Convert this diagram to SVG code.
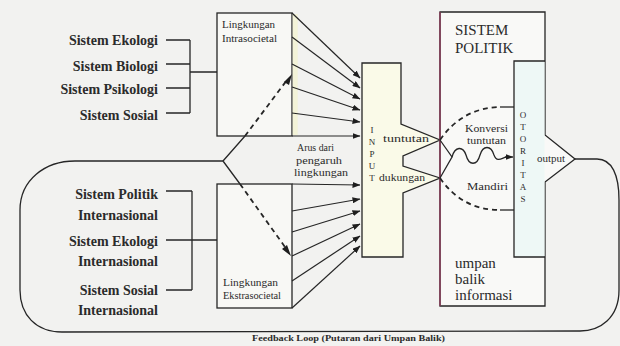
<svg xmlns="http://www.w3.org/2000/svg" width="620" height="346" viewBox="0 0 620 346" font-family="'Liberation Serif', 'DejaVu Serif', serif">
<defs>
<style>
.ln{stroke:#262626;stroke-width:1.3;fill:none}
.dl{stroke:#262626;stroke-width:1.8;fill:none;stroke-dasharray:5 4}
.ar{stroke:#262626;stroke-width:1.2;fill:none;marker-end:url(#ah)}
text{fill:#2b2b2b}
.lb{font-size:14px;font-weight:bold}
.sm{font-size:10px}
.big{font-size:15px}
</style>
<marker id="ah" markerWidth="8" markerHeight="6" refX="7.5" refY="3" orient="auto" markerUnits="userSpaceOnUse">
<path d="M0,0 L8,3 L0,6 z" fill="#1e1e1e"/>
</marker>
</defs>
<rect x="0" y="0" width="620" height="346" fill="#f2f2f0"/>

<g id="feedback-loop">
<path class="ln" d="M575,159 L597,159 C612,159 619,175 619,200 L619,290 C619,318 600,331 580,331 L62,332 C36,332 20,315 20,290 L20,210 C20,180 45,161 75,161 L223,161"/>
<text x="252" y="341" font-size="9" font-weight="bold" textLength="193" lengthAdjust="spacingAndGlyphs">Feedback Loop (Putaran dari Umpan Balik)</text>
</g>

<g id="intrasocietal-sources">
<text class="lb" x="158" y="45" text-anchor="end">Sistem Ekologi</text>
<text class="lb" x="158" y="71" text-anchor="end">Sistem Biologi</text>
<text class="lb" x="158" y="94" text-anchor="end">Sistem Psikologi</text>
<text class="lb" x="158" y="120" text-anchor="end">Sistem Sosial</text>
<path class="ln" d="M166,40 H190 M166,64 H190 M166,88 H190 M166,113 H190 M190,40 V113 M190,72 H217"/>
</g>

<g id="extrasocietal-sources">
<text class="lb" x="158" y="199" text-anchor="end">Sistem Politik</text>
<text class="lb" x="158" y="220" text-anchor="end">Internasional</text>
<text class="lb" x="158" y="246" text-anchor="end">Sistem Ekologi</text>
<text class="lb" x="158" y="266" text-anchor="end">Internasional</text>
<text class="lb" x="158" y="295" text-anchor="end">Sistem Sosial</text>
<text class="lb" x="158" y="315" text-anchor="end">Internasional</text>
<path class="ln" d="M166,191 H192 M166,290 H192 M192,191 V290 M166,240 H217"/>
</g>

<g id="intrasocietal-env">
<rect x="217" y="13" width="75" height="123" fill="#f8f8f5" stroke="#262626" stroke-width="1.3"/>
<rect x="292.7" y="14" width="5" height="121" fill="#f3f3d8"/>
<text class="sm" x="222" y="28" textLength="53" lengthAdjust="spacingAndGlyphs">Lingkungan</text>
<text class="sm" x="222" y="42" textLength="55" lengthAdjust="spacingAndGlyphs">Intrasocietal</text>
</g>

<g id="extrasocietal-env">
<rect x="217" y="184" width="75" height="124" fill="#f8f8f5" stroke="#262626" stroke-width="1.3"/>
<text class="sm" x="223" y="286" textLength="55" lengthAdjust="spacingAndGlyphs">Lingkungan</text>
<text class="sm" x="223" y="299" textLength="58" lengthAdjust="spacingAndGlyphs">Ekstrasocietal</text>
</g>

<g id="flow-label">
<text class="sm" x="297" y="151" textLength="37" lengthAdjust="spacingAndGlyphs">Arus dari</text>
<text class="sm" x="296" y="164" textLength="46" lengthAdjust="spacingAndGlyphs">pengaruh</text>
<text class="sm" x="294" y="176" textLength="54" lengthAdjust="spacingAndGlyphs">lingkungan</text>
</g>

<g id="input">
<path d="M362,63 H401 V124 L440,140 L403,156 V166 L440,178 L403,193 V257 H362 Z" fill="#fafae8" stroke="#262626" stroke-width="1.3"/>
<g font-size="9" text-anchor="middle">
<text x="372" y="133">I</text>
<text x="372" y="145">N</text>
<text x="372" y="157">P</text>
<text x="372" y="169">U</text>
<text x="372" y="181">T</text>
</g>
<text class="sm" x="383" y="142" textLength="46" lengthAdjust="spacingAndGlyphs">tuntutan</text>
<text class="sm" x="379" y="181" textLength="46" lengthAdjust="spacingAndGlyphs">dukungan</text>
</g>

<g id="sistem-politik">
<path d="M440,12 H545 V135 L575,159 L545,182 V306 H440 Z" fill="#f9f9f7" stroke="#262626" stroke-width="1.3"/>
<rect x="514.6" y="61.6" width="30" height="195" fill="#eef8f6"/>
<path class="ln" d="M545,61 H514 V257 H545"/>
<line x1="440" y1="12" x2="440" y2="306" stroke="#8a3a58" stroke-width="1.4"/>
<text class="big" x="455" y="35">SISTEM</text>
<text class="big" x="455" y="53">POLITIK</text>
<text class="big" x="455" y="268">umpan</text>
<text class="big" x="455" y="284">balik</text>
<text class="big" x="455" y="300">informasi</text>
<text class="sm" x="465" y="132" textLength="43" lengthAdjust="spacingAndGlyphs">Konversi</text>
<text class="sm" x="467" y="144" textLength="39" lengthAdjust="spacingAndGlyphs">tuntutan</text>
<text class="sm" x="467" y="190" textLength="41" lengthAdjust="spacingAndGlyphs">Mandiri</text>
<text class="sm" x="537" y="162" textLength="28" lengthAdjust="spacingAndGlyphs">output</text>
</g>

<g id="otoritas">
<g font-size="9" text-anchor="middle">
<text x="523" y="118">O</text>
<text x="523" y="130">T</text>
<text x="523" y="142">O</text>
<text x="523" y="154">R</text>
<text x="523" y="166">I</text>
<text x="523" y="178">T</text>
<text x="523" y="190">A</text>
<text x="523" y="202">S</text>
</g>
</g>

<g id="connectors">
<path class="ar" d="M292,13 L360,78"/>
<path class="ar" d="M292,37 L360,88"/>
<path class="ar" d="M292,64 L360,99"/>
<path class="ar" d="M292,87 L360,110"/>
<path class="ar" d="M292,113 L360,122"/>
<path class="ar" d="M292,136 L360,136"/>
<path class="ar" d="M292,184 L360,185"/>
<path class="ar" d="M292,211 L360,199"/>
<path class="ar" d="M292,232 L360,211"/>
<path class="ar" d="M292,256 L360,224"/>
<path class="ar" d="M292,281 L360,236"/>
<path class="ar" d="M292,308 L360,246"/>
<path class="ln" d="M223,161 L245,136 M223,161 L240,184"/>
<path class="dl" d="M245,136 L287,80"/>
<path class="dl" d="M240,184 L285,247"/>
<path d="M284,82 L292,74 L289,85 Z M282,249 L291,256 L287,245 Z" fill="#1e1e1e"/>
<path class="ln" d="M440,140 L452,157 L440,178"/>
<path class="ln" d="M452,157 C455,146 463,146 466,155 C469,166 477,166 480,155 C483,145 491,145 494,155 C497,163 502,158 506,157" />
<path class="ar" d="M505,157 L513,157"/>
<path class="dl" d="M440,140 Q462,108 500,107"/>
<path class="ln" d="M500,107 H514"/>
<path class="dl" d="M440,178 Q462,210 500,210"/>
<path class="ln" d="M500,210 H514"/>
</g>
</svg>
